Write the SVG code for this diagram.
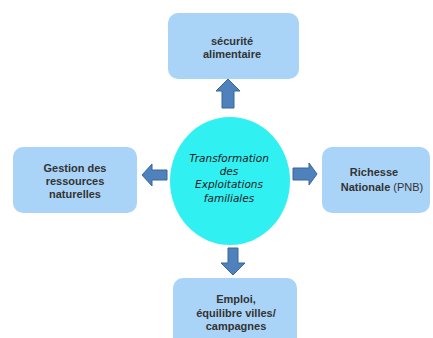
<svg xmlns="http://www.w3.org/2000/svg" width="433" height="338" viewBox="0 0 433 338">
<style>
.box{fill:#aad4f7;stroke:none}
.t{font-family:"Liberation Sans",Arial,sans-serif;font-size:11px;font-weight:bold;fill:#333333;text-anchor:middle}
.n{font-weight:normal}
.e{font-family:"DejaVu Sans","Liberation Sans",sans-serif;font-size:10.5px;font-style:italic;fill:#222222;text-anchor:middle}
.arr{fill:#4f81bd;stroke:#3b6797;stroke-width:1}
</style>
<rect width="433" height="338" fill="#ffffff"/>
<g id="connectors">
<polygon class="arr" points="228,79 240,91 234,91 234,108 222,108 222,91 216,91"/>
<polygon class="arr" points="142,175 152,164 152,170 167,170 167,180 152,180 152,186"/>
<polygon class="arr" points="317,174 309,163 309,168 293,168 293,180 309,180 309,185"/>
<polygon class="arr" points="233,275 245,263 238,263 238,248 228,248 228,263 221,263"/>
</g>
<g id="center">
<ellipse cx="230" cy="181" rx="60" ry="64" fill="#30f0f2"/>
<text class="e" x="229" y="162">Transformation</text>
<text class="e" x="229" y="175">des</text>
<text class="e" x="229" y="188">Exploitations</text>
<text class="e" x="229" y="202">familiales</text>
</g>
<g id="securite">
<rect class="box" x="168" y="13" width="131" height="66" rx="10"/>
<text class="t" x="232" y="45">sécurité</text>
<text class="t" x="232" y="58">alimentaire</text>
</g>
<g id="gestion">
<rect class="box" x="13" y="147" width="124" height="66" rx="10"/>
<text class="t" x="75" y="172">Gestion des</text>
<text class="t" x="75" y="185">ressources</text>
<text class="t" x="75" y="198">naturelles</text>
</g>
<g id="richesse">
<rect class="box" x="322" y="147" width="108" height="66" rx="10"/>
<text class="t" x="374" y="176">Richesse</text>
<text class="t" x="382" y="191">Nationale <tspan class="n">(PNB)</tspan></text>
</g>
<g id="emploi">
<rect class="box" x="173" y="278" width="124" height="70" rx="10"/>
<text class="t" x="236" y="303">Emploi,</text>
<text class="t" x="236" y="317">équilibre villes/</text>
<text class="t" x="236" y="330">campagnes</text>
</g>
</svg>
